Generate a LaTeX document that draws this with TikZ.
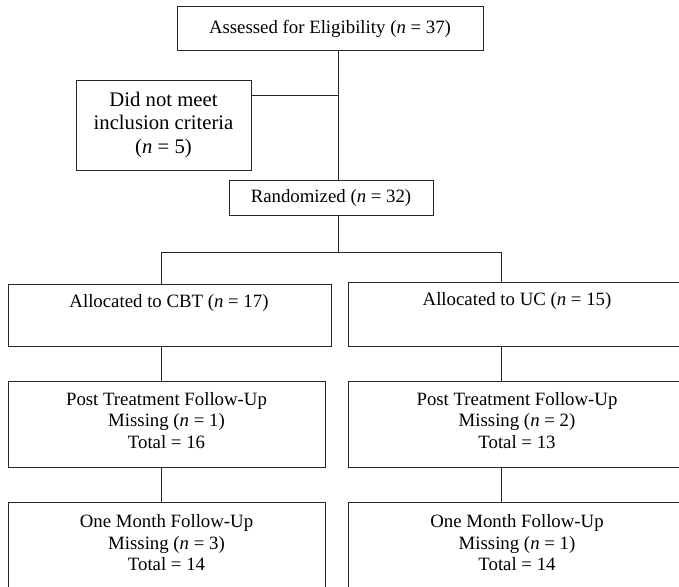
\documentclass[tikz,border=0pt]{standalone}
\usepackage{fontspec}
\setmainfont{Liberation Serif}
\tikzset{
  box/.style={draw=black!85, line width=1pt, rectangle, inner sep=0pt},
  txt/.style={align=center, inner sep=0pt, font=\fontsize{18.8}{21.5}\selectfont},
  bigtxt/.style={align=center, inner sep=0pt, font=\fontsize{20.7}{23.5}\selectfont},
  link/.style={draw=black!85, line width=1pt},
}
\begin{document}
\begin{tikzpicture}[x=1pt,y=-1pt]
\useasboundingbox (0,0) rectangle (679,586);
\clip (0,0) rectangle (679,586);

\node[box, txt, minimum width=306pt, minimum height=44pt] (top) at (330,29) {Assessed for Eligibility (\textit{n} = 37)};
\node[box, bigtxt, minimum width=175pt, minimum height=90pt] (excl) at (163.5,125) {Did not meet\\inclusion criteria\\(\textit{n} = 5)};
\node[box, txt, minimum width=204pt, minimum height=35pt] (rand) at (331,197.5) {Randomized (\textit{n} = 32)};

\node[box, minimum width=323pt, minimum height=62pt] (cbt) at (169.5,315) {};
\node[txt] (cbtT) at (169,303) {Allocated to CBT (\textit{n} = 17)};
\node[box, minimum width=338pt, minimum height=64pt] (uc) at (517,314) {};
\node[txt] (ucT) at (517,301) {Allocated to UC (\textit{n} = 15)};

\node[box, minimum width=317pt, minimum height=86pt] (postA) at (166.5,424) {};
\node[txt] (postAT) at (166.5,420.5) {Post Treatment Follow-Up\\Missing (\textit{n} = 1)\\Total = 16};
\node[box, minimum width=338pt, minimum height=86pt] (postB) at (517,424) {};
\node[txt] (postBT) at (517,420.5) {Post Treatment Follow-Up\\Missing (\textit{n} = 2)\\Total = 13};

\node[box, minimum width=317pt, minimum height=90pt] (monA) at (166.5,547) {};
\node[txt] (monAT) at (166.5,543) {One Month Follow-Up\\Missing (\textit{n} = 3)\\Total = 14};
\node[box, minimum width=338pt, minimum height=90pt] (monB) at (517,547) {};
\node[txt] (monBT) at (517,543) {One Month Follow-Up\\Missing (\textit{n} = 1)\\Total = 14};

\coordinate (sp) at (338,0);
\coordinate (j1) at (338,95);
\coordinate (br) at (338,252);
\coordinate (lx) at (161,0);
\coordinate (rx) at (501.5,0);

\draw[link] (top.south -| sp) -- (rand.north -| sp);
\draw[link] (j1) -- (j1 -| excl.east);
\draw[link] (rand.south -| sp) -- (br);
\draw[link] (cbt.north -| lx) -- (br -| lx) -- (br -| rx) -- (uc.north -| rx);
\draw[link] (cbt.south -| lx) -- (postA.north -| lx);
\draw[link] (uc.south -| rx) -- (postB.north -| rx);
\draw[link] (postA.south -| lx) -- (monA.north -| lx);
\draw[link] (postB.south -| rx) -- (monB.north -| rx);
\end{tikzpicture}
\end{document}
